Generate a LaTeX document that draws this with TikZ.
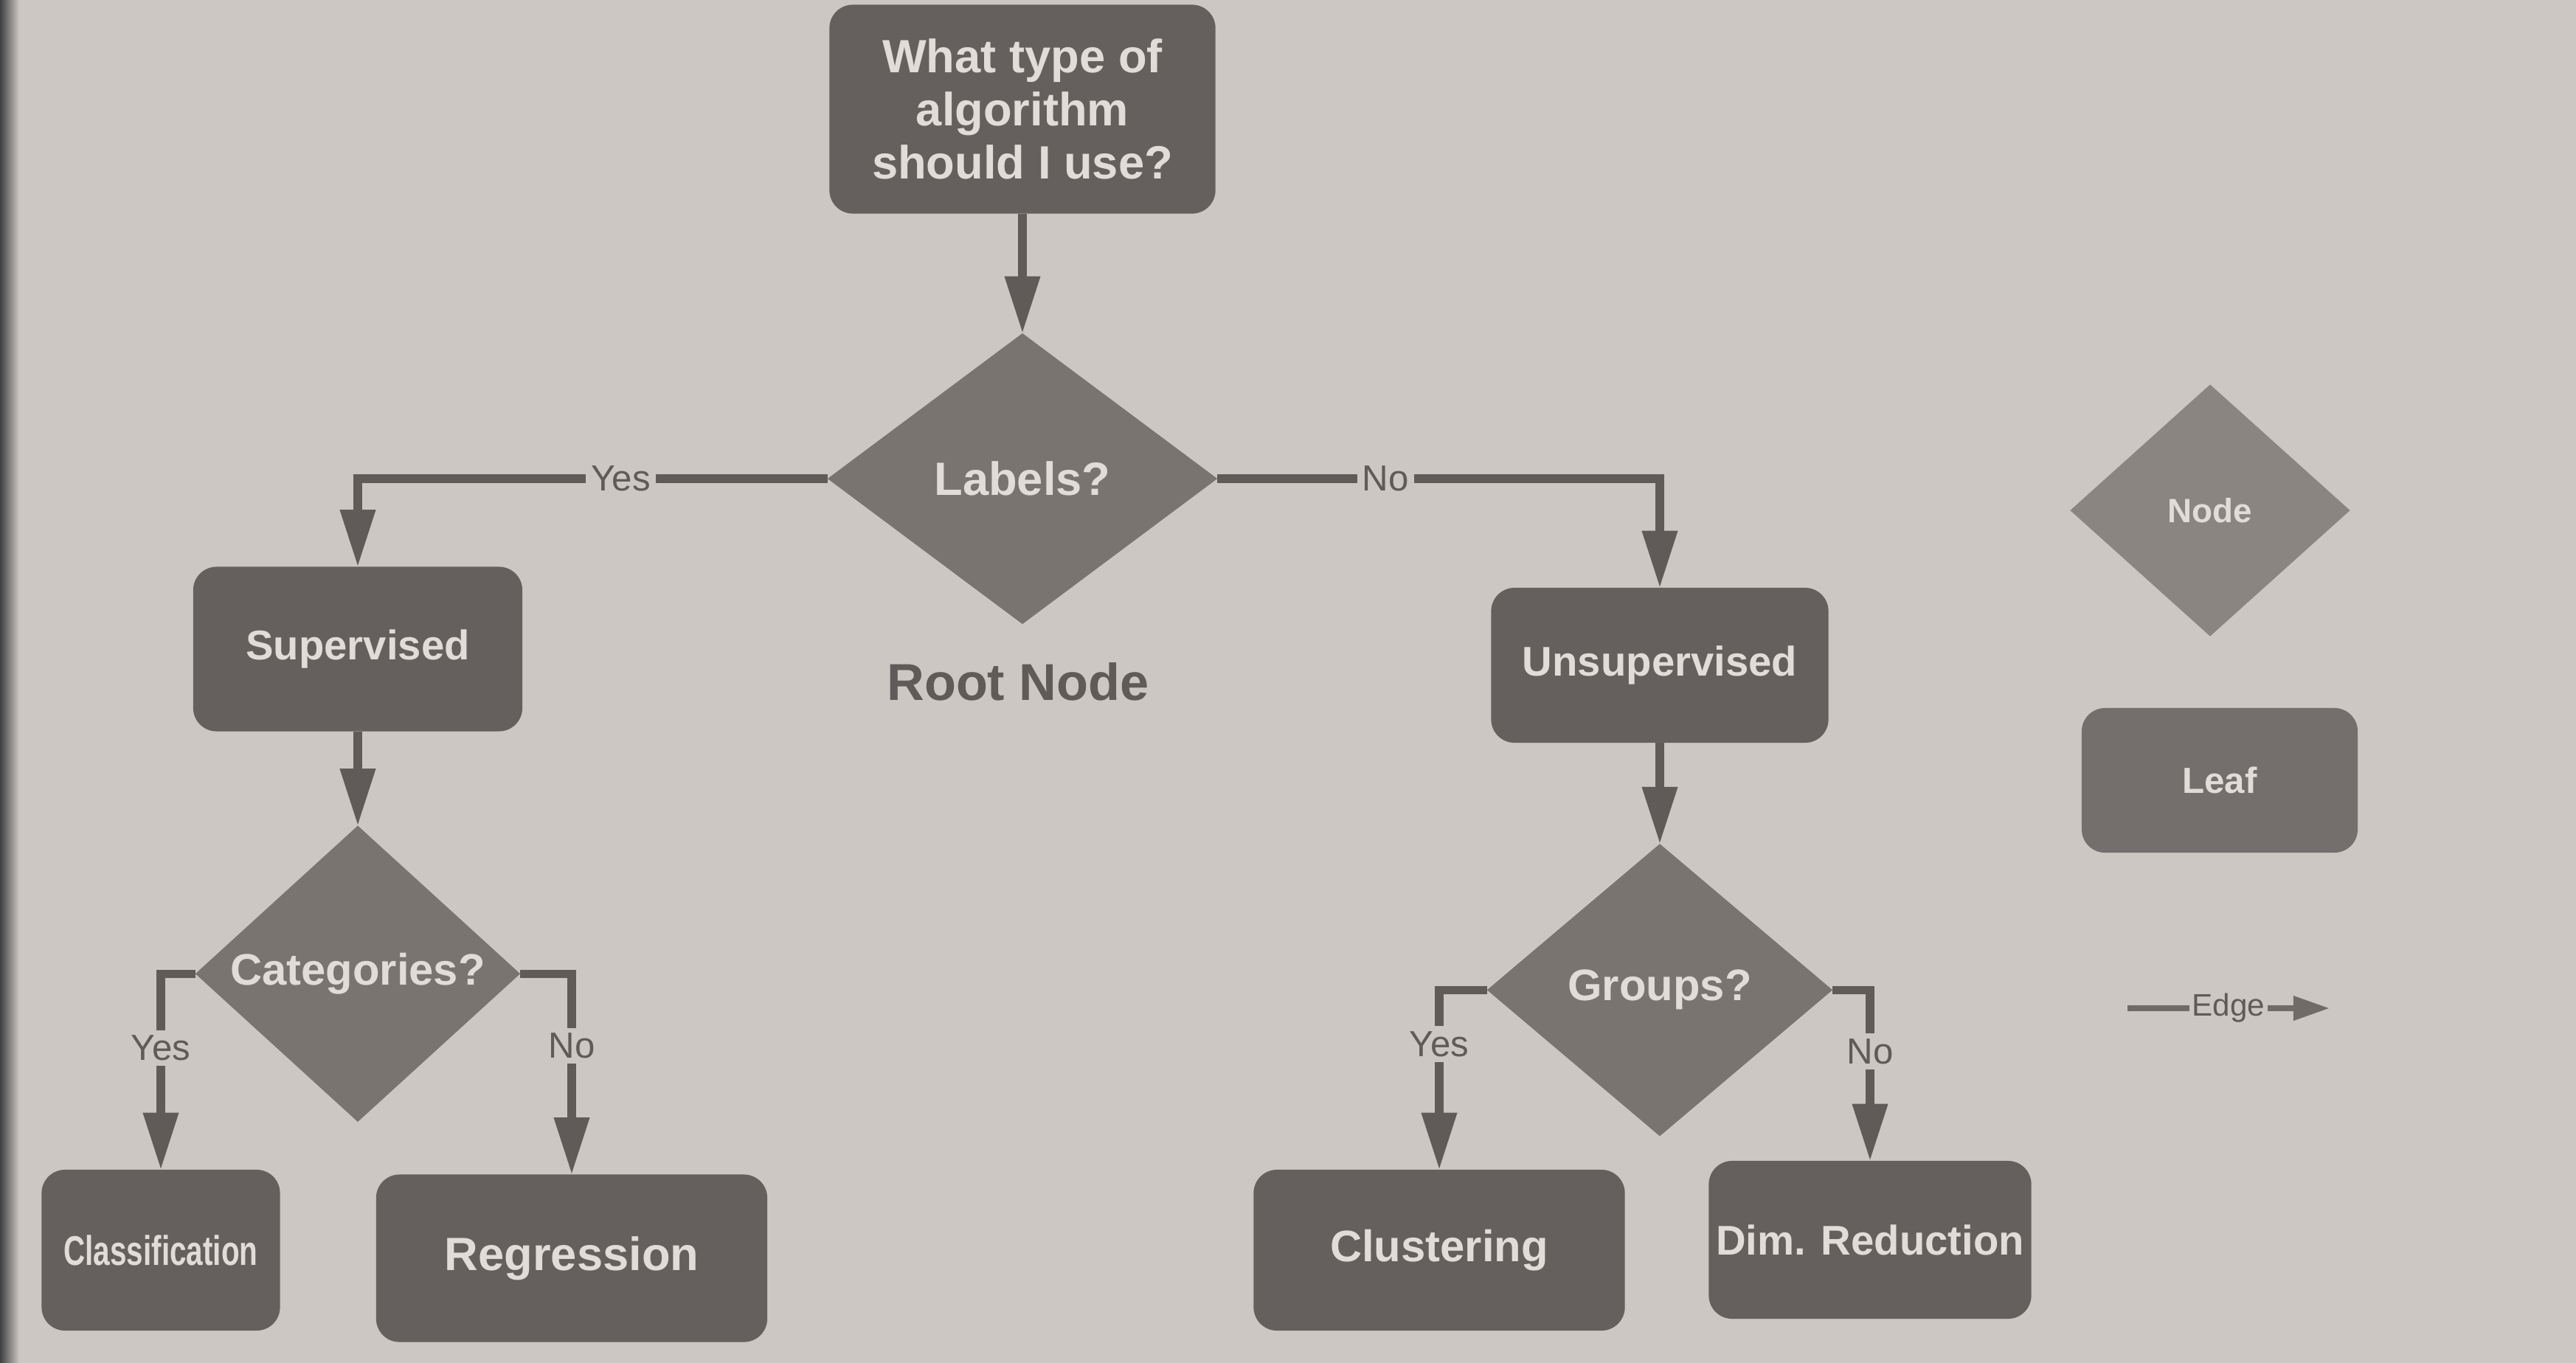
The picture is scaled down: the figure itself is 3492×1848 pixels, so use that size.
\documentclass[tikz,border=0pt]{standalone}
\usepackage{fontspec}
\usepackage{graphicx}
\setmainfont{Liberation Sans}
\usetikzlibrary{shapes.geometric,arrows.meta,calc}

\definecolor{paper}{RGB}{204,199,194}
\definecolor{leafgray}{RGB}{101,96,94}
\definecolor{testgray}{RGB}{122,116,113}
\definecolor{inkgray}{RGB}{96,91,89}
\definecolor{textgray}{RGB}{224,220,216}

\begin{document}
\begin{tikzpicture}[x=0.01cm, y=-0.01cm, node distance=4.4cm, line width=3.2pt,
                    leaf node/.style={rectangle,rounded corners=9pt,fill=leafgray,text=textgray,align=center,inner sep=0pt,outer sep=0pt,font=\bfseries\fontsize{16}{19}\selectfont},
                    test node/.style={diamond,fill=testgray,text=textgray,inner sep=0pt,outer sep=0pt,font=\bfseries\fontsize{17}{20}\selectfont},
                    edge label/.style={fill=paper,text=inkgray,inner sep=2pt,font=\fontsize{14}{16}\selectfont},
                    flow/.style={draw,color=inkgray,-{Triangle[length=22pt,width=13pt]}},
                    elbow/.style={to path={-| (\tikztotarget) \tikztonodes}}]
    \useasboundingbox (0,0) rectangle (3492,1848);
    \fill[paper] (0,0) rectangle (3492,1848);
    \fill[left color=black!75, right color=paper] (0,0) rectangle (26,1848);

    \node[leaf node, minimum width=5.23cm, minimum height=2.83cm, font=\bfseries\fontsize{18}{20.5}\selectfont] (1) at (1386,148) {What type of\\algorithm\\should I use?};
    \node[test node, minimum width=5.28cm, minimum height=3.94cm, font=\bfseries\fontsize{18}{21}\selectfont] (2) at (1386,649) {Labels?};
    \node[text=inkgray, font=\bfseries\fontsize{20}{24}\selectfont] (3) at (1380,924) {Root Node};
    \node[leaf node, minimum width=4.46cm, minimum height=2.23cm] (4) at (485,880) {Supervised};
    \node[test node, minimum width=4.4cm, minimum height=4cm] (5) [below of=4] {Categories?};
    \node[leaf node, minimum width=3.23cm, minimum height=2.18cm] (6) at (218,1695) {\scalebox{0.72}[1]{Classification}};
    \node[leaf node, minimum width=5.3cm, minimum height=2.27cm, font=\bfseries\fontsize{18}{21}\selectfont] (7) at (775,1706) {Regression};
    \node[leaf node, minimum width=4.57cm, minimum height=2.1cm] (8) at (2250,902) {Unsupervised};
    \node[test node, minimum width=4.68cm, minimum height=3.96cm] (9) [below of=8] {Groups?};
    \node[leaf node, minimum width=5.03cm, minimum height=2.18cm, font=\bfseries\fontsize{17}{20}\selectfont] (10) at (1951,1695) {Clustering};
    \node[leaf node, minimum width=4.37cm, minimum height=2.14cm] (11) at (2535,1681) {Dim. Reduction};

    % legend
    \node[test node, fill=testgray!80!paper, minimum width=3.79cm, minimum height=3.41cm, font=\bfseries\fontsize{13}{15}\selectfont] (12) at (2996,692) {Node};
    \node[leaf node, fill=leafgray!85!paper, minimum width=3.74cm, minimum height=1.96cm, font=\bfseries\fontsize{14}{16}\selectfont] (13) at (3009,1058) {Leaf};
    \coordinate (14) at (2884,1367);
    \coordinate (15) at (3158,1367);

    \path[every edge/.style={flow}]
        (1) edge (2)
        (2) edge[elbow] node[edge label, pos=0.22] {Yes} (4)
            edge[elbow] node[edge label, pos=0.19] {No} (8)
        (4) edge (5)
        (5) edge[elbow] node[edge label, pos=0.69] {Yes} (6)
            edge[elbow] node[edge label, pos=0.68] {No} (7)
        (8) edge (9)
        (9) edge[elbow] node[edge label, pos=0.65] {Yes} (10)
            edge[elbow] node[edge label, pos=0.68] {No} (11);

    \path[every edge/.style={flow, color=inkgray!85!paper, line width=2.4pt, -{Triangle[length=14pt,width=9pt]}}]
        (14) edge node[edge label, font=\fontsize{12}{14}\selectfont, inner sep=1pt] {Edge} (15);
\end{tikzpicture}
\end{document}
